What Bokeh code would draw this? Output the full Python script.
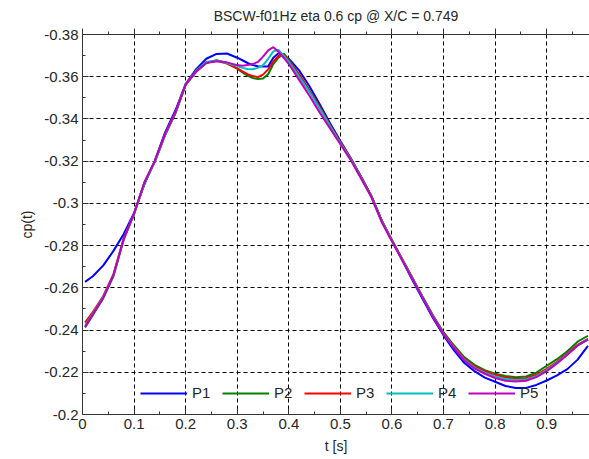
from bokeh.plotting import figure
from bokeh.models import Range1d, LinearAxis, FixedTicker, CustomJSTickFormatter, Legend, LegendItem
from bokeh.embed import file_html
from bokeh.resources import INLINE

t = [0.005, 0.02, 0.04, 0.06, 0.08, 0.10, 0.12, 0.14, 0.16, 0.18, 0.20, 0.22, 0.24, 0.26, 0.28,
     0.30, 0.31, 0.32, 0.33, 0.34, 0.35, 0.36, 0.37, 0.38, 0.39, 0.40, 0.42, 0.44, 0.46, 0.48,
     0.50, 0.52, 0.54, 0.56, 0.58, 0.60, 0.62, 0.64, 0.66, 0.68, 0.70, 0.72, 0.74, 0.76, 0.78,
     0.80, 0.82, 0.84, 0.86, 0.88, 0.90, 0.92, 0.94, 0.96, 0.98]

p1 = [-0.2628, -0.2655, -0.2705, -0.2775, -0.2855, -0.2955, -0.3090, -0.3200, -0.3335, -0.3440,
      -0.3565, -0.3635, -0.3685, -0.3708, -0.3710, -0.3690, -0.3678, -0.3665, -0.3655, -0.3650,
      -0.3649, -0.3649, -0.3690, -0.3711, -0.3702, -0.3685, -0.3630, -0.3555, -0.3470, -0.3380,
      -0.3295, -0.3215, -0.3128, -0.3035, -0.2920, -0.2825, -0.2730, -0.2635, -0.2545, -0.2455,
      -0.2375, -0.2305, -0.2245, -0.2205, -0.2175, -0.2155, -0.2135, -0.2126, -0.2126, -0.2140,
      -0.2161, -0.2185, -0.2215, -0.2260, -0.2325]

p2 = [-0.2412, -0.2470, -0.2550, -0.2655, -0.2830, -0.2950, -0.3097, -0.3197, -0.3322, -0.3425,
      -0.3560, -0.3622, -0.3665, -0.3678, -0.3665, -0.3638, -0.3620, -0.3605, -0.3594, -0.3589,
      -0.3592, -0.3612, -0.3660, -0.3690, -0.3710, -0.3680, -0.3610, -0.3535, -0.3455, -0.3370,
      -0.3288, -0.3212, -0.3125, -0.3035, -0.2918, -0.2825, -0.2735, -0.2645, -0.2555, -0.2468,
      -0.2390, -0.2328, -0.2272, -0.2235, -0.2210, -0.2193, -0.2182, -0.2177, -0.2180, -0.2198,
      -0.2231, -0.2262, -0.2300, -0.2345, -0.2373]

p3 = [-0.2435, -0.2485, -0.2560, -0.2665, -0.2835, -0.2952, -0.3097, -0.3197, -0.3325, -0.3428,
      -0.3563, -0.3625, -0.3667, -0.3675, -0.3662, -0.3640, -0.3625, -0.3612, -0.3603, -0.3598,
      -0.3610, -0.3635, -0.3672, -0.3698, -0.3705, -0.3675, -0.3610, -0.3535, -0.3455, -0.3370,
      -0.3288, -0.3212, -0.3125, -0.3035, -0.2918, -0.2825, -0.2735, -0.2645, -0.2553, -0.2465,
      -0.2385, -0.2322, -0.2265, -0.2228, -0.2205, -0.2188, -0.2175, -0.2169, -0.2172, -0.2188,
      -0.2216, -0.2250, -0.2290, -0.2330, -0.2358]

p4 = [-0.2420, -0.2478, -0.2555, -0.2660, -0.2832, -0.2950, -0.3095, -0.3197, -0.3325, -0.3430,
      -0.3565, -0.3628, -0.3670, -0.3677, -0.3665, -0.3650, -0.3642, -0.3637, -0.3635, -0.3642,
      -0.3655, -0.3685, -0.3720, -0.3727, -0.3700, -0.3670, -0.3600, -0.3528, -0.3448, -0.3365,
      -0.3285, -0.3210, -0.3122, -0.3032, -0.2915, -0.2822, -0.2732, -0.2642, -0.2552, -0.2463,
      -0.2382, -0.2318, -0.2260, -0.2222, -0.2198, -0.2180, -0.2168, -0.2163, -0.2166, -0.2182,
      -0.2210, -0.2245, -0.2285, -0.2327, -0.2356]

p5 = [-0.2415, -0.2475, -0.2552, -0.2660, -0.2832, -0.2952, -0.3100, -0.3200, -0.3328, -0.3432,
      -0.3565, -0.3625, -0.3665, -0.3673, -0.3668, -0.3655, -0.3652, -0.3655, -0.3660, -0.3670,
      -0.3695, -0.3725, -0.3740, -0.3718, -0.3690, -0.3660, -0.3585, -0.3510, -0.3430, -0.3355,
      -0.3280, -0.3205, -0.3118, -0.3030, -0.2912, -0.2820, -0.2730, -0.2640, -0.2550, -0.2460,
      -0.2380, -0.2315, -0.2256, -0.2218, -0.2193, -0.2173, -0.2160, -0.2156, -0.2160, -0.2177,
      -0.2205, -0.2242, -0.2283, -0.2327, -0.2355]

series = [("P1", p1, "#0000FF"), ("P2", p2, "#008000"), ("P3", p3, "#FF0000"),
          ("P4", p4, "#00BFBF"), ("P5", p5, "#BF00BF")]

x_major = [0.0, 0.1, 0.2, 0.3, 0.4, 0.5, 0.6, 0.7, 0.8, 0.9]
x_minor = [0.05, 0.15, 0.25, 0.35, 0.45, 0.55, 0.65, 0.75, 0.85, 0.95]
y_major = [-0.38, -0.36, -0.34, -0.32, -0.30, -0.28, -0.26, -0.24, -0.22, -0.20]
y_minor = [-0.37, -0.35, -0.33, -0.31, -0.29, -0.27, -0.25, -0.23, -0.21]

FONT = "Liberation Sans"
TXT = "#262626"

p = figure(width=589, height=459, output_backend="svg", toolbar_location=None,
           x_range=Range1d(0, 0.983), y_range=Range1d(-0.2, -0.38),
           min_border_left=82, min_border_right=0, min_border_top=33, min_border_bottom=45,
           title="BSCW-f01Hz eta 0.6 cp @ X/C = 0.749")
p.title.align = "center"
p.title.text_font = FONT
p.title.text_font_size = "14px"
p.title.text_font_style = "normal"
p.title.text_color = TXT
p.outline_line_color = None
p.background_fill_color = "white"
p.border_fill_color = "white"

fmt = CustomJSTickFormatter(code="return String(Number(tick.toFixed(2)));")

p.xaxis.ticker = FixedTicker(ticks=x_major, minor_ticks=x_minor)
p.yaxis.ticker = FixedTicker(ticks=y_major, minor_ticks=y_minor)
p.xaxis.formatter = fmt
p.yaxis.formatter = fmt

for ax in (p.xaxis[0], p.yaxis[0]):
    ax.major_tick_in = 6
    ax.major_tick_out = 0
    ax.minor_tick_in = 3
    ax.minor_tick_out = 0
    ax.axis_line_color = "#333333"
    ax.major_tick_line_color = "#333333"
    ax.minor_tick_line_color = "#333333"
    ax.major_label_text_font = FONT
    ax.major_label_text_font_size = "15px"
    ax.major_label_text_color = TXT
    ax.axis_label_text_font = FONT
    ax.axis_label_text_font_size = "14px"
    ax.axis_label_text_font_style = "normal"
    ax.axis_label_text_color = TXT
    ax.major_label_standoff = 4
    ax.axis_label_standoff = 6

p.xaxis.axis_label = "t [s]"
p.yaxis.axis_label = "cp(t)"

# top frame edge with inward ticks, no labels
top = LinearAxis(ticker=FixedTicker(ticks=x_major, minor_ticks=x_minor),
                 formatter=CustomJSTickFormatter(code="return '';"),
                 major_tick_in=0, major_tick_out=6, minor_tick_in=0, minor_tick_out=3,
                 major_label_standoff=0,
                 axis_line_color="#333333", major_tick_line_color="#333333",
                 minor_tick_line_color="#333333")
p.add_layout(top, "above")

p.grid.grid_line_color = "black"
p.grid.grid_line_dash = "4 3"
p.grid.grid_line_width = 1
p.grid.grid_line_alpha = 1.0

items = []
for name, ys, col in series:
    r = p.line(t, ys, line_color=col, line_width=2)
    items.append(LegendItem(label=name, renderers=[r]))

legend = Legend(items=items, orientation="horizontal", location=(58, 13),
                glyph_width=47, glyph_height=16, label_standoff=5, label_width=20,
                spacing=10, padding=5, margin=0,
                label_text_font=FONT, label_text_font_size="15px", label_text_color=TXT,
                background_fill_alpha=0, border_line_color=None)
p.add_layout(legend, "center")

open("out.html", "w").write(file_html(p, INLINE))
